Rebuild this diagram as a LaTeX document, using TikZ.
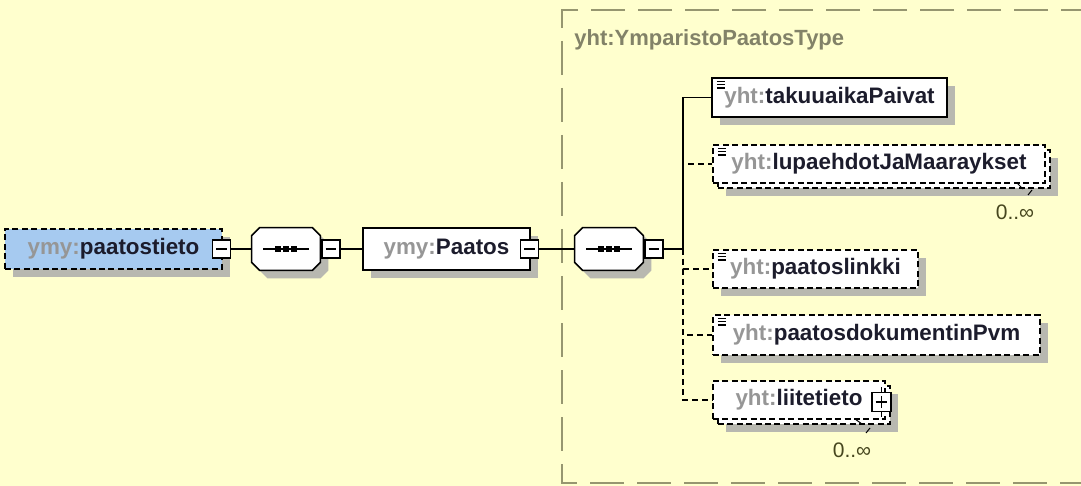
\documentclass[tikz,border=0pt]{standalone}
\usepackage{fontspec}
\setmainfont{Liberation Sans}
\usepackage{tikz}
\usetikzlibrary{shadows}
\usepackage{xcolor}
\definecolor{diagbg}{RGB}{255,255,206}
\definecolor{selblue}{RGB}{166,202,240}
\definecolor{pfxgray}{RGB}{150,150,150}
\definecolor{namedark}{RGB}{28,28,44}
\definecolor{shadegray}{RGB}{184,184,176}
\definecolor{framegray}{RGB}{150,150,112}
\definecolor{typegray}{RGB}{130,130,104}
\definecolor{multolive}{RGB}{70,70,30}

\newcommand{\qname}[2]{\textcolor{pfxgray}{#1:}#2}

\tikzstyle{connector} = [line width=0.75pt, black]
\tikzstyle{optconn} = [connector, dash pattern=on 3pt off 2pt]
\tikzstyle{boxshadow} = [drop shadow={shadow xshift=4pt, shadow yshift=-4pt, fill=shadegray, opacity=1}]
\tikzstyle{elem} = [rectangle, draw, line width=0.75pt, fill=white, inner xsep=2pt, inner ysep=0pt, font=\fontsize{11.2}{13}\selectfont\bfseries, text=namedark]
\tikzstyle{optelem} = [elem, dash pattern=on 3pt off 1.7pt]
\tikzstyle{simpletype} = [path picture={
    \foreach \dy in {1.7pt,3.3pt,4.9pt}
      \draw[solid, black, line width=0.8pt] ([xshift=2.4pt,yshift=-\dy]path picture bounding box.north west) -- ++(4pt,0);}]
\tikzstyle{minusbtn} = [rectangle, draw, solid, line width=0.75pt, fill=white, minimum size=9pt, inner sep=0pt,
  path picture={\draw[black, line width=0.6pt] ([xshift=1.8pt]path picture bounding box.west) -- ([xshift=-1.8pt]path picture bounding box.east);}]
\tikzstyle{plusbtn} = [rectangle, draw, solid, line width=0.75pt, fill=white, minimum size=9.5pt, inner sep=0pt,
  path picture={\draw[black, line width=0.6pt] ([xshift=1.8pt]path picture bounding box.west) -- ([xshift=-1.8pt]path picture bounding box.east);
                \draw[black, line width=0.6pt] ([yshift=-1.8pt]path picture bounding box.north) -- ([yshift=1.8pt]path picture bounding box.south);}]
\tikzstyle{sequence} = [rectangle, minimum width=34pt, minimum height=21pt, inner sep=0pt]
\tikzstyle{typeframe} = [line width=0.75pt, framegray, dash pattern=on 17pt off 6.5pt]
\tikzstyle{typelabel} = [font=\fontsize{11}{13}\selectfont\bfseries, text=typegray, inner sep=0pt]
\tikzstyle{mult} = [font=\fontsize{10.5}{12}\selectfont, text=multolive, inner sep=0pt]

% octagon of a sequence compositor, drawn round its (invisible) node
\newcommand{\seqoct}[1]{%
  \begin{scope}[transform canvas={shift={(4pt,-4pt)}}]
    \fill[shadegray] ([xshift=4pt]#1.north west) -- ([xshift=-4pt]#1.north east) -- ([yshift=-4pt]#1.north east) -- ([yshift=4pt]#1.south east)
      -- ([xshift=-4pt]#1.south east) -- ([xshift=4pt]#1.south west) -- ([yshift=4pt]#1.south west) -- ([yshift=-4pt]#1.north west) -- cycle;
  \end{scope}
  \draw[line width=0.75pt, fill=white] ([xshift=4pt]#1.north west) -- ([xshift=-4pt]#1.north east) -- ([yshift=-4pt]#1.north east) -- ([yshift=4pt]#1.south east)
      -- ([xshift=-4pt]#1.south east) -- ([xshift=4pt]#1.south west) -- ([yshift=4pt]#1.south west) -- ([yshift=-4pt]#1.north west) -- cycle;
  \draw[line width=0.6pt] ([xshift=-11.5pt]#1.center) -- ([xshift=11.5pt]#1.center);
  \foreach \dx in {-4.2pt,0pt,4.2pt}
    \fill[black] ([xshift=\dx]#1.center) ++(-1.5pt,-1.4pt) rectangle ++(3pt,2.8pt);
}

\begin{document}
\begin{tikzpicture}[x=0.5pt, y=-0.5pt]
    % Background
    \fill[diagbg] (0,0) rectangle (1081,486);
    \useasboundingbox (0,0) rectangle (1081,486);

    % Complex type frame
    \draw[typeframe] (1095,10) -- (562,10) -- (562,483) -- (1095,483);
    \node[typelabel, anchor=west] (typename) at (574,40) {yht:YmparistoPaatosType};

    % Root element and first sequence
    \node[optelem, fill=selblue, boxshadow, minimum width=108.5pt, minimum height=20pt] (paatostieto) at (113.5,249) {\qname{ymy}{paatostieto}};
    \node[minusbtn] (btnA) at (221.5,249) {};
    \node[sequence] (seqA) at (286,249) {};
    \seqoct{seqA}
    \node[minusbtn] (btnB) at (331,249) {};

    % Paatos and second sequence
    \node[elem, boxshadow, minimum width=83.5pt, minimum height=21pt] (paatos) at (446.5,249) {\qname{ymy}{Paatos}};
    \node[minusbtn] (btnC) at (529.5,249) {};
    \node[sequence] (seqB) at (609,249) {};
    \seqoct{seqB}
    \node[minusbtn] (btnD) at (654,249) {};
    \coordinate (fork) at (683,249);

    % Child elements
    \node[elem, simpletype, boxshadow, minimum width=117.5pt, minimum height=19.5pt] (takuu) at (829.5,97.5) {\qname{yht}{takuuaikaPaivat}};

    \node[optelem, boxshadow, minimum width=166pt, minimum height=19pt] (lupback) at (884,169) {};
    \node[optelem, simpletype, minimum width=166pt, minimum height=19pt] (lupaehdot) at (879,164) {\qname{yht}{lupaehdotJaMaaraykset}};

    \node[optelem, simpletype, boxshadow, minimum width=102.5pt, minimum height=19pt] (linkki) at (815.5,269) {\qname{yht}{paatoslinkki}};
    \node[optelem, simpletype, boxshadow, minimum width=163.5pt, minimum height=20pt] (pvm) at (876.5,335) {\qname{yht}{paatosdokumentinPvm}};

    \node[optelem, boxshadow, minimum width=86pt, minimum height=19pt] (liiteback) at (804,405) {};
    \node[optelem, minimum width=86pt, minimum height=19pt] (liitetieto) at (799,400) {\qname{yht}{liitetieto}};
    \node[plusbtn] (liiteplus) at (881.5,402) {};

    % Occurrence marks
    \draw[line width=0.5pt] (1017,183) -- (1023,189);
    \draw[line width=0.5pt] (1028,195) -- (1032,190);
    \draw[line width=0.5pt] (855,419) -- (862,424);
    \draw[line width=0.5pt] (866,433) -- (870,428);
    \node[mult] (lupmult) at (1015,212) {0..∞};
    \node[mult] (liitemult) at (852,450) {0..∞};

    % Connectors
    \draw[connector] (btnA) -- (seqA);
    \draw[connector] (seqA) -- (btnB);
    \draw[connector] (btnB) -- (paatos);
    \draw[connector] (btnC) -- (seqB);
    \draw[connector] (seqB) -- (btnD);
    \draw[connector] (btnD) -- (fork);
    \draw[connector] (fork) |- (takuu.west);
    \draw[optconn] (fork) |- (lupaehdot.west);
    \draw[optconn] (fork) |- (linkki.west);
    \draw[optconn] (fork) |- (pvm.west);
    \draw[optconn] (fork) |- (liitetieto.west);
    \draw[connector] (liiteplus.north) -- ++(0,-5);
    \draw[connector] (liiteplus.south) -- ++(0,5);
\end{tikzpicture}
\end{document}
